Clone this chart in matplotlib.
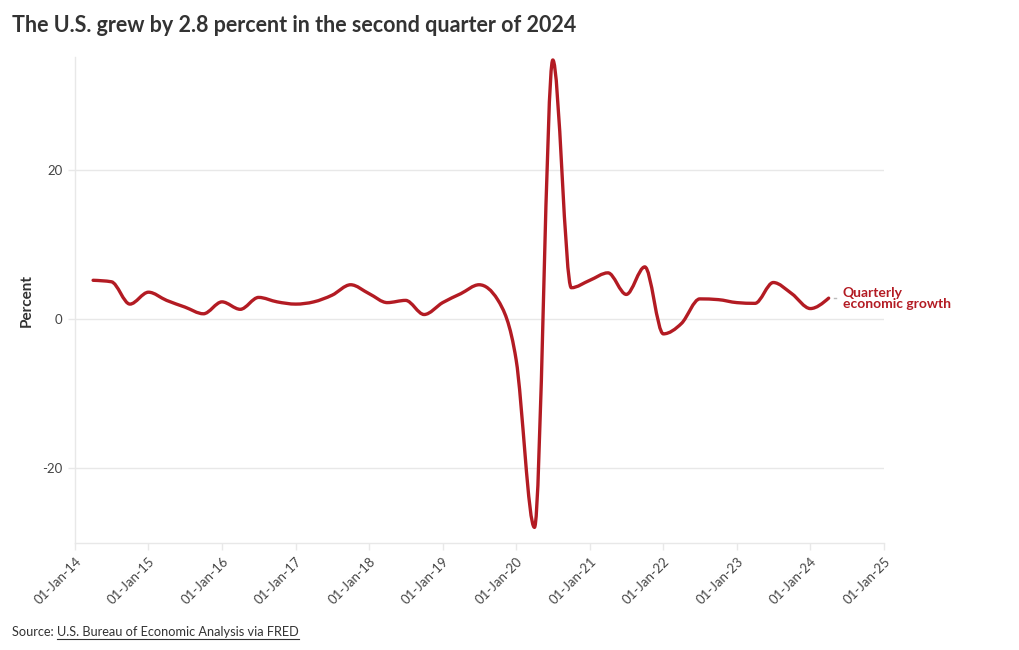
import numpy as np
import pandas as pd
import matplotlib
matplotlib.use("Agg")
import matplotlib.pyplot as plt
import matplotlib.dates as mdates
from matplotlib.path import Path
from matplotlib.patches import PathPatch
from matplotlib.lines import Line2D

plt.rcParams['font.family'] = ['Lato', 'DejaVu Sans']

# real GDP growth, quarterly, annualized percent change
quarters = pd.date_range("2014-04-01", "2024-04-01", freq="QS")
growth = [5.2, 5.0, 2.0,
          3.6, 2.5, 1.6, 0.7,
          2.3, 1.3, 2.9, 2.3,
          2.0, 2.3, 3.2, 4.6,
          3.4, 2.2, 2.5, 0.6,
          2.2, 3.4, 4.6, 2.6,
          -5.5, -28.0, 34.8, 4.2,
          5.2, 6.2, 3.3, 7.0,
          -2.0, -0.6, 2.7, 2.6,
          2.2, 2.1, 4.9, 3.4,
          1.4, 2.8]
year_ticks = pd.date_range("2014-01-01", "2025-01-01", freq="YS")
y_ticks = [-20, 0, 20]

line_color = "#b31b23"
grid_color = "#e8e8e8"
text_color = "#333333"


def monotone_path(x, y):
    # same curve as d3.curveMonotoneX, built from cubic bezier segments
    x = np.asarray(x, float)
    y = np.asarray(y, float)
    n = len(x)
    h = np.diff(x)
    s = np.diff(y) / h
    t = np.zeros(n)
    for i in range(1, n - 1):
        p = (s[i - 1] * h[i] + s[i] * h[i - 1]) / (h[i - 1] + h[i])
        t[i] = (np.sign(s[i - 1]) + np.sign(s[i])) * min(abs(s[i - 1]), abs(s[i]), 0.5 * abs(p))
    t[0] = (3 * s[0] - t[1]) / 2
    t[-1] = (3 * s[-1] - t[-2]) / 2
    verts = [(x[0], y[0])]
    codes = [Path.MOVETO]
    for i in range(n - 1):
        dx = h[i] / 3
        verts += [(x[i] + dx, y[i] + dx * t[i]),
                  (x[i + 1] - dx, y[i + 1] - dx * t[i + 1]),
                  (x[i + 1], y[i + 1])]
        codes += [Path.CURVE4] * 3
    return Path(verts, codes)


fig = plt.figure(figsize=(10.2, 6.5), dpi=100)
ax = fig.add_axes([0.0735, 0.1646, 0.7932, 0.7477])

xnum = mdates.date2num(quarters)
ax.add_patch(PathPatch(monotone_path(xnum, growth), fill=False,
                       edgecolor=line_color, lw=2.4, capstyle="round", joinstyle="round"))

ax.set_xlim(mdates.date2num(year_ticks[0]), mdates.date2num(year_ticks[-1]))
ax.set_ylim(-30.1, 35.2)

ax.set_xticks(mdates.date2num(year_ticks))
ax.set_xticklabels([d.strftime("%d-%b-%y") for d in year_ticks], rotation=45,
                   ha="right", va="top", rotation_mode="anchor")
ax.set_yticks(y_ticks)
ax.set_yticklabels([str(v) for v in y_ticks])
ax.tick_params(axis="both", colors=grid_color, labelcolor="#444444", labelsize=9.5,
               length=5, width=1)
ax.tick_params(axis="x", pad=4)
ax.tick_params(axis="y", pad=4)
ax.grid(axis="y", color=grid_color, lw=1)
ax.set_axisbelow(True)
for side in ["top", "right"]:
    ax.spines[side].set_visible(False)
for side in ["left", "bottom"]:
    ax.spines[side].set_color(grid_color)
    ax.spines[side].set_linewidth(1)

ax.set_ylabel("Percent", fontsize=11, fontweight="bold", color=text_color, labelpad=6)

# direct label at the end of the line
ax.annotate("Quarterly\neconomic growth", xy=(xnum[-1], growth[-1]),
            xytext=(10, 0), textcoords="offset points", ha="left", va="center",
            fontsize=10, fontweight="bold", color=line_color, linespacing=0.9)
ax.plot([xnum[-1] + 25, xnum[-1] + 35], [growth[-1], growth[-1]], color="#bbbbbb", lw=1,
        clip_on=False)

fig.text(12 / 1020, 1 - 25 / 650, "The U.S. grew by 2.8 percent in the second quarter of 2024",
         fontsize=15.5, fontweight="bold", color=text_color, ha="left", va="center")

src = fig.text(12 / 1020, 1 - 632 / 650, "Source: ", fontsize=9.2, color=text_color,
               ha="left", va="center")
fig.canvas.draw()
bb = src.get_window_extent()
link = fig.text(bb.x1 / 1020, 1 - 632 / 650, "U.S. Bureau of Economic Analysis via FRED",
                fontsize=9.2, color=text_color, ha="left", va="center")
fig.canvas.draw()
lb = link.get_window_extent()
fig.add_artist(Line2D([lb.x0 / 1020, lb.x1 / 1020], [(lb.y0 - 1) / 650] * 2,
                      color=text_color, lw=0.8))

fig.savefig("out.png", dpi=100, facecolor="white")
